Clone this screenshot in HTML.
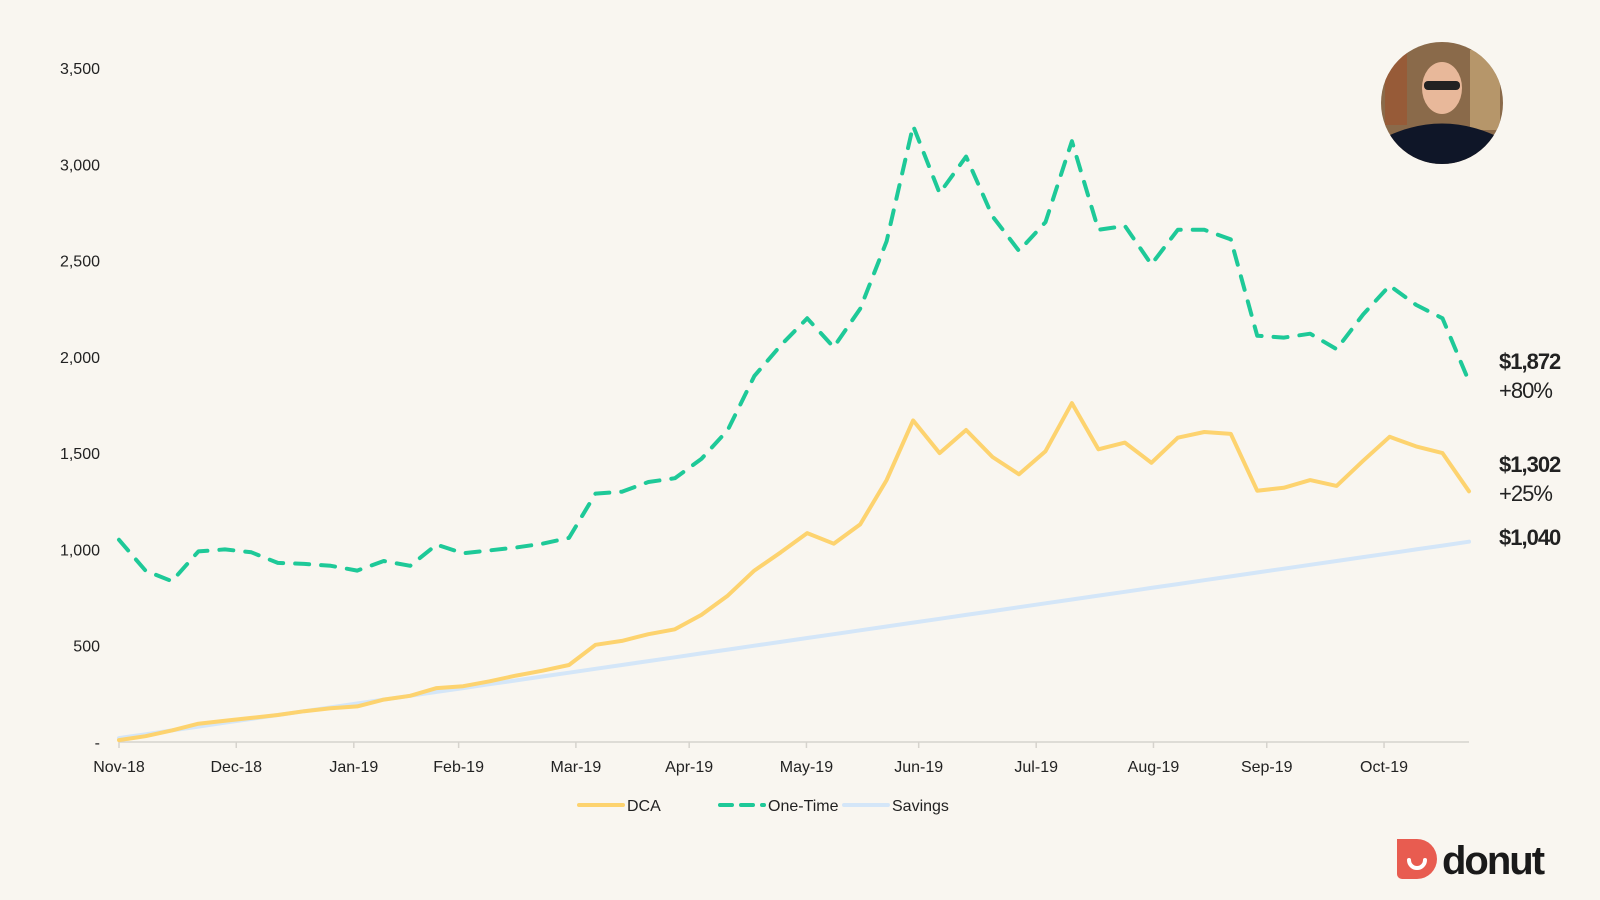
<!DOCTYPE html>
<html><head><meta charset="utf-8"><style>
body{margin:0;background:#f9f6f0;width:1600px;height:900px;overflow:hidden;font-family:"Liberation Sans",sans-serif}
svg{position:absolute;left:0;top:0}
</style></head><body>
<svg width="1600" height="900" id="chart">
<defs><clipPath id="av"><circle cx="1442" cy="103" r="61"/></clipPath></defs>
<g id="grid"></g>
<g id="series"></g>
<g id="labels"></g>
<!-- avatar -->
<g clip-path="url(#av)">
<rect x="1380" y="40" width="125" height="125" fill="#8a6a4a"/>
<rect x="1385" y="45" width="22" height="80" fill="#a0522d" opacity="0.6"/>
<rect x="1470" y="50" width="30" height="80" fill="#c9a978" opacity="0.7"/>
<path d="M1380 165 L1390 135 Q1442 112 1494 135 L1505 165Z" fill="#0f1628"/>
<ellipse cx="1442" cy="88" rx="20" ry="26" fill="#e8b89a"/>
<rect x="1424" y="81" width="36" height="9" rx="4" fill="#222"/>
</g>
<!-- logo -->
<g>
<path d="M1397 839 H1417 A20 20 0 0 1 1417 879 H1402 A5 5 0 0 1 1397 874Z" fill="#e85c50"/>
<path d="M1409 860 A8 8 0 0 0 1425 860" stroke="#fff" stroke-width="4" fill="none" stroke-linecap="round"/>
<text x="1442" y="874" font-size="40" font-weight="bold" fill="#1a1a1a" letter-spacing="-2">donut</text>
</g>
</svg>
<script>
const categories = Array.from({length:52},(_, i)=>i);
const dcaValues = [10,30,60,95,110,125,140,160,175,185,220,240,280,290,315,345,370,400,505,525,560,585,660,760,890,985,1085,1030,1130,1360,1670,1500,1620,1480,1390,1510,1760,1520,1555,1450,1580,1610,1600,1305,1320,1360,1330,1460,1585,1535,1500,1302];
const oneTimeValues = [1050,890,835,990,1000,985,930,925,915,890,940,915,1025,980,995,1010,1030,1060,1290,1300,1350,1370,1470,1620,1900,2060,2200,2050,2250,2600,3200,2850,3040,2730,2550,2700,3120,2660,2680,2480,2660,2660,2610,2110,2100,2120,2040,2220,2370,2270,2200,1872];
const savingsValues = [20,40,60,80,100,120,140,160,180,200,220,240,260,280,300,320,340,360,380,400,420,440,460,480,500,520,540,560,580,600,620,640,660,680,700,720,740,760,780,800,820,840,860,880,900,920,940,960,980,1000,1020,1040];
const yTicks = [0,500,1000,1500,2000,2500,3000,3500];
const yTickLabels = ["-","500","1,000","1,500","2,000","2,500","3,000","3,500"];
const monthLabels = ["Nov-18","Dec-18","Jan-19","Feb-19","Mar-19","Apr-19","May-19","Jun-19","Jul-19","Aug-19","Sep-19","Oct-19"];
const monthPos = [0,4.43,8.87,12.83,17.26,21.54,25.97,30.21,34.65,39.08,43.36,47.79];
const endLabels = [["$1,872","+80%"],["$1,302","+25%"],["$1,040"]];

const NS="http://www.w3.org/2000/svg";
const X0=119,X1=1469,Y0=742,Y1=68,YMAX=3500;
const xs=i=>X0+(X1-X0)*i/(categories.length-1);
const ys=v=>Y0-(Y0-Y1)*v/YMAX;
function mk(tag,attrs,parent){const e=document.createElementNS(NS,tag);for(const k in attrs)e.setAttribute(k,attrs[k]);parent.appendChild(e);return e;}
const grid=document.getElementById('grid'),ser=document.getElementById('series'),lab=document.getElementById('labels');

const ax=mk('line',{x1:X0,x2:X1,y1:Y0,y2:Y0,stroke:'#d6d3cd','stroke-width':1.5},grid);


yTicks.forEach((v,k)=>{
  const t=mk('text',{x:100,y:ys(v)+6,'text-anchor':'end','font-size':16,fill:'#222'},grid);
  t.textContent=yTickLabels[k];
  
  
});
monthLabels.forEach((m,k)=>{
  const x=xs(monthPos[k]);
  const tk=mk('line',{x1:x,x2:x,y1:Y0,y2:Y0+6,stroke:'#d6d3cd','stroke-width':1.5},grid);
  
  
  const t=mk('text',{x:x,y:772,'text-anchor':'middle','font-size':16,fill:'#222'},grid);
  t.textContent=m;
  
  
});
function line(vals,color,dash,name){
  const d=vals.map((v,i)=>(i?'L':'M')+xs(i).toFixed(1)+' '+ys(v).toFixed(1)).join(' ');
  const p=mk('path',{d:d,fill:'none',stroke:color,'stroke-width':4,'stroke-linejoin':'round','stroke-linecap':'round'},ser);
  if(dash)p.setAttribute('stroke-dasharray',dash);
  
  
}
line(savingsValues,'#d4e6f8',null,'savings-line');
line(dcaValues,'#fdd36f',null,'dca-line');
line(oneTimeValues,'#1ec998','14 12','one-time-line');

const endY=[369,472,545];
endLabels.forEach((ls,k)=>{
  ls.forEach((s,j)=>{
    const t=mk('text',{x:1499,y:endY[k]+j*29,'font-size':22,fill:'#222','font-weight':j?'normal':'bold','letter-spacing':-1},lab);
    t.textContent=s;
    
    
  });
});
const legend=[['DCA','#fdd36f',null,579],['One-Time','#1ec998','12 9',720],['Savings','#d4e6f8',null,844]];
legend.forEach(([n,c,d,x])=>{
  const l=mk('line',{x1:x,x2:x+44,y1:805,y2:805,stroke:c,'stroke-width':4,'stroke-linecap':'round'},lab);
  if(d)l.setAttribute('stroke-dasharray',d);
  
  
  const t=mk('text',{x:x+48,y:811,'font-size':16,fill:'#222'},lab);
  t.textContent=n;
  
  
});
</script>
</body></html>
